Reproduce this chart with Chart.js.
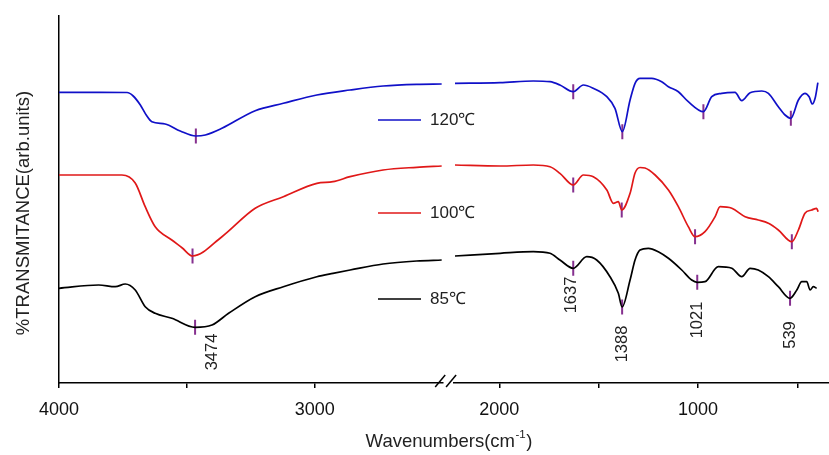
<!DOCTYPE html>
<html><head><meta charset="utf-8">
<script src="https://cdn.jsdelivr.net/npm/chart.js@4/dist/chart.umd.min.js"></script>
<style>html,body{margin:0;padding:0;background:#fff}#wrap{width:829px;height:455px}</style>
</head><body><div id="wrap"><canvas id="c" width="829" height="455"></canvas></div>
<script>
// ---- data (x = wavenumber cm-1, y = transmittance, arbitrary units) ----
const seriesNames = ['120℃', '100℃', '85℃'];
const leftTicks = [4000, 3500, 3000];
const rightTicks = [2000, 1500, 1000, 500];

const blueLeft = [[4000,290.7],[3839,290.7],[3734,290.5],[3710,287],[3682,278],[3659,268],[3637,261.3],[3585,259],[3526,252],[3465,247],[3428,248],[3363,254.7],[3233,272.3],[3123,279.7],[2992,288],[2862,293],[2733,297],[2602,298.7],[2504,299]];
const blueRight = [[2223,299.7],[1996,300.3],[1829,302],[1745,301.3],[1695,298],[1628,291.3],[1577,298],[1527,294.7],[1459,286.3],[1418,274.7],[1381,251.3],[1342,283],[1317,299.7],[1292,304.7],[1233,304.7],[1183,301.3],[1149,296.3],[1099,291.3],[1049,281.3],[973,271.3],[931,286.3],[881,289.7],[814,290.7],[780,282.3],[738,290.3],[679,292],[646,289.7],[596,276.3],[562,268],[533,264.7],[495,283],[462,289.7],[441,286.3],[425,279],[411,284.7],[397,300.3]];

const redLeft = [[4000,208],[3754,208],[3702,200],[3663,176.3],[3624,156.3],[3559,143],[3518,135],[3478,127],[3363,146.3],[3233,174.7],[3123,186.3],[2992,199.7],[2929,201.3],[2862,206.3],[2733,213],[2602,215.7],[2504,217]];
const redRight = [[2223,218],[1996,217],[1829,218],[1745,216.3],[1695,209.7],[1628,198],[1577,208],[1527,206.3],[1459,193],[1426,179.7],[1401,181.3],[1384,173],[1342,189.7],[1317,210],[1292,215.5],[1267,215],[1216,208],[1149,193],[1099,176.3],[1049,156.3],[1015,146.3],[965,151.3],[914,166.3],[889,176.3],[830,174.7],[763,166.3],[697,163],[646,159.7],[596,153],[528,141.3],[495,153],[462,169.7],[428,173],[403,174.7],[396,171.3]];

const blackLeft = [[4000,94.7],[3845,98],[3780,96.3],[3741,99],[3702,93],[3663,76.3],[3624,69.7],[3559,64.7],[3468,55.7],[3402,58],[3337,69.7],[3233,86.3],[3123,96.3],[2992,106.3],[2929,109.7],[2862,113],[2733,119],[2602,122],[2504,123]];
const blackRight = [[2223,127],[1996,129.7],[1829,131.3],[1745,129.7],[1695,123],[1628,114.7],[1560,126.3],[1510,123],[1443,106.3],[1401,89.7],[1382,76],[1342,103],[1317,123],[1292,133],[1250,134.7],[1200,131.3],[1149,124.7],[1082,113],[1032,103],[1004,100.7],[965,101.3],[898,116.3],[830,114.7],[780,106.3],[738,114.7],[697,113],[646,106.3],[596,96.3],[537,84.7],[503,93],[478,101.3],[453,101.3],[436,93],[420,96.3],[403,94.7]];

// peak markers placed on each curve
const markersLeft = [[3465,247],[3478,127],[3468,55.7]];
const markersRight = [[1628,291.3],[1381,251.3],[973,271.3],[533,264.7],[1628,198],[1384,173],[1015,146.3],[528,141.3],[1628,114.7],[1382,76],[1004,100.7],[537,84.7]];

// peak labels (wavenumber text) and the transmittance level where they sit
const peakLabels = ['3474', '1637', '1388', '1021', '539'];
const peakLabelWave = [3474, 1637, 1388, 1021, 539];
const peakLabelLevel = [31, 88, 39, 63, 48];

const legendLevel = [263, 170, 84];
// -----------------------------------------------------------------------

const colors = ['#1010c8', '#e01818', '#000000'];
const markerColor = '#86308f';
const FONT = "'Liberation Sans', Arial, sans-serif";
Chart.defaults.font.family = FONT;

const pts = a => a.map(p => ({x: p[0], y: p[1]}));
function lineDs(data, color, axis) {
  return {type: 'line', data: pts(data), xAxisID: axis, yAxisID: 'y', borderColor: color,
    borderWidth: 1.7, pointRadius: 0, cubicInterpolationMode: 'monotone', fill: false, clip: false};
}
function markDs(data, axis) {
  return {type: 'line', data: pts(data), xAxisID: axis, yAxisID: 'y', showLine: false,
    pointStyle: 'line', rotation: 90, pointRadius: 7.5, pointBorderColor: markerColor,
    pointBorderWidth: 2, borderColor: markerColor, pointHoverRadius: 7.5};
}
function xScale(min, max, weight, tickList) {
  return {
    type: 'linear', position: 'bottom', stack: 'wn', stackWeight: weight, reverse: true,
    min: min, max: max, offset: false,
    border: {display: !!tickList, color: '#000', width: 1.5},
    grid: {display: !!tickList, drawOnChartArea: false, drawTicks: true, tickLength: 5, color: '#000', lineWidth: 1.5},
    ticks: {display: !!tickList, color: '#111', font: {size: 18}, padding: 11, maxRotation: 0, autoSkip: false,
      callback: v => (v % 1000 === 0 ? String(v) : '')},
    afterBuildTicks: s => { if (tickList) s.ticks = tickList.map(v => ({value: v})); else s.ticks = []; },
    afterFit: s => { s.height = 72; s.paddingLeft = 0; s.paddingRight = 0; }
  };
}

const overlay = {
  id: 'overlay',
  afterDraw(chart) {
    const ctx = chart.ctx;
    const xL = chart.scales.xL, xR = chart.scales.xR, y = chart.scales.y;
    ctx.save();
    // axis break marks
    const axY = xL.top;
    ctx.strokeStyle = '#000'; ctx.lineWidth = 1.5;
    [xL.right - 2.5, xR.left - 2.5].forEach(cx => {
      ctx.beginPath(); ctx.moveTo(cx - 5, axY + 4); ctx.lineTo(cx + 5, axY - 8); ctx.stroke();
    });
    // legend
    ctx.font = '17px ' + FONT; ctx.textBaseline = 'middle'; ctx.textAlign = 'left';
    seriesNames.forEach((n, i) => {
      const py = y.getPixelForValue(legendLevel[i]);
      ctx.strokeStyle = colors[i]; ctx.lineWidth = 1.7;
      ctx.beginPath(); ctx.moveTo(378, py); ctx.lineTo(421, py); ctx.stroke();
      ctx.fillStyle = '#222'; ctx.fillText(n, 430, py);
    });
    // peak labels (rotated)
    const dx = [19, 0, 2, 4, 1];
    ctx.font = '16.5px ' + FONT; ctx.fillStyle = '#222'; ctx.textAlign = 'center';
    peakLabels.forEach((t, i) => {
      const w = peakLabelWave[i];
      const sc = w > 2300 ? xL : xR;
      const px = sc.getPixelForValue(w) + dx[i];
      const py = y.getPixelForValue(peakLabelLevel[i]);
      ctx.save(); ctx.translate(px, py); ctx.rotate(-Math.PI / 2); ctx.fillText(t, 0, 0); ctx.restore();
    });
    // y title
    ctx.save(); ctx.translate(24, 213); ctx.rotate(-Math.PI / 2);
    ctx.font = '18.5px ' + FONT; ctx.fillStyle = '#222'; ctx.textAlign = 'center';
    ctx.fillText('%TRANSMITANCE(arb.units)', 0, 0); ctx.restore();
    // x title with superscript
    ctx.font = '18.5px ' + FONT; ctx.fillStyle = '#222'; ctx.textAlign = 'left'; ctx.textBaseline = 'alphabetic';
    const a = 'Wavenumbers(cm', sup = '-1', b = ')';
    const wa = ctx.measureText(a).width, wb = ctx.measureText(b).width;
    ctx.font = '11.5px ' + FONT; const ws = ctx.measureText(sup).width;
    const total = wa + ws + wb + 1;
    let x0 = 449 - total / 2; const base = 447;
    ctx.font = '18.5px ' + FONT; ctx.fillText(a, x0, base);
    ctx.font = '11.5px ' + FONT; ctx.fillText(sup, x0 + wa + 0.5, base - 9);
    ctx.font = '18.5px ' + FONT; ctx.fillText(b, x0 + wa + ws + 1, base);
    ctx.restore();
  }
};

new Chart(document.getElementById('c'), {
  data: {datasets: [
    lineDs(blueLeft, colors[0], 'xL'), lineDs(blueRight, colors[0], 'xR'),
    lineDs(redLeft, colors[1], 'xL'), lineDs(redRight, colors[1], 'xR'),
    lineDs(blackLeft, colors[2], 'xL'), lineDs(blackRight, colors[2], 'xR'),
    markDs(markersLeft, 'xL'), markDs(markersRight, 'xR')
  ]},
  options: {
    responsive: false, animation: false, devicePixelRatio: 1,
    layout: {autoPadding: false, padding: {top: 16, right: 0, bottom: 0, left: 0}},
    plugins: {legend: {display: false}, tooltip: {enabled: false}},
    scales: {
      xL: xScale(2500, 4000, 383.7, leftTicks),
      xG: xScale(2230, 2500, 10.9, null),
      xR: xScale(341, 2230, 375.4, rightTicks),
      y: {type: 'linear', position: 'left', min: 0, max: 367,
        border: {display: true, color: '#000', width: 1.5},
        grid: {display: false}, ticks: {display: false},
        afterFit: s => { s.width = 59; }}
    }
  },
  plugins: [overlay]
});
</script>
</body></html>
